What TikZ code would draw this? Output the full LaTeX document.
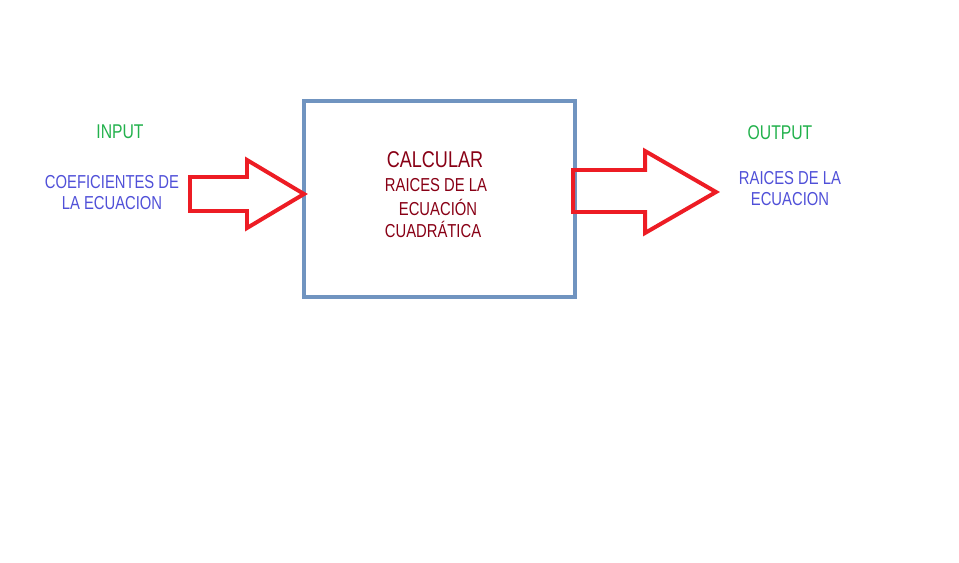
\documentclass[tikz,border=0pt]{standalone}
\usepackage{fontspec}
\setmainfont{Liberation Sans}[FakeStretch=0.79]
\usetikzlibrary{calc,positioning}
\definecolor{boxblue}{HTML}{7094C0}
\definecolor{arrowred}{HTML}{ED1C24}
\definecolor{ingreen}{HTML}{22B14C}
\definecolor{txtblue}{HTML}{5050D8}
\definecolor{darkred}{HTML}{880015}
\tikzset{
  caja/.style={draw=boxblue, line width=3.4pt},
  flecha/.style={draw=arrowred, line width=3.4pt, line join=miter},
  titulo/.style={text=ingreen, font=\fontsize{17}{19}\selectfont},
  dato/.style={text=txtblue, font=\fontsize{16}{18}\selectfont, align=center},
  proc/.style={text=darkred, font=\fontsize{16}{18.5}\selectfont}
}
\begin{document}
\begin{tikzpicture}[x=0.03cm,y=-0.03cm]
\useasboundingbox (0,0) rectangle (959,562);
% proceso
\coordinate (A) at (304,101);
\coordinate (B) at (575,297);
\draw[caja] (A) rectangle (B);
\node[proc, font=\fontsize{19.5}{20}\selectfont] (calc) at (435,160) {CALCULAR};
\node[proc] (r1) at (436,185) {RAICES DE LA};
\node[proc] (r2) at (438,207) {ECUACIÓN};
\node[proc] (r3) at (433,229) {CUADRÁTICA};
% entrada
\node[titulo] (in) at (120,132) {INPUT};
\node[dato] (coef) at (112,193) {COEFICIENTES DE\\LA ECUACION};
\coordinate (t1) at (304,194);
\draw[flecha] (190,177) -- (247,177) -- (247,160) -- (t1)
  -- (247,228) -- (247,211) -- (190,211) -- cycle;
% salida
\node[titulo] (out) at (780,133) {OUTPUT};
\node[dato] (raices) at (790,189) {RAICES DE LA\\ECUACION};
\coordinate (t2) at (716,192);
\draw[flecha] (573,170) -- (645,170) -- (645,151) -- (t2)
  -- (645,233) -- (645,212) -- (573,212) -- cycle;
\end{tikzpicture}
\end{document}
